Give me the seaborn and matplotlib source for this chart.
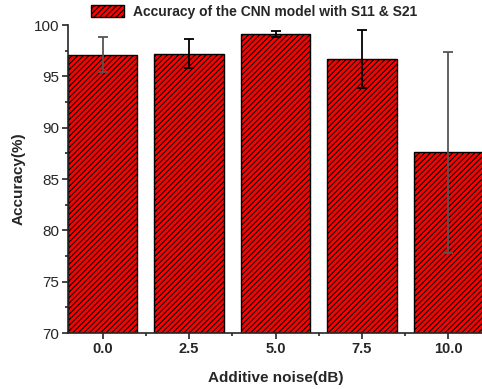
import numpy as np
import seaborn as sns
import matplotlib.pyplot as plt
from matplotlib.patches import Patch
from matplotlib.ticker import MultipleLocator, FixedLocator

# Data
noise_labels = ['0.0', '2.5', '5.0', '7.5', '10.0']
accuracy = [97.1, 97.2, 99.1, 96.7, 87.6]
accuracy_err = [1.7, 1.4, 0.3, 2.8, 9.8]
err_colors = ['#555555', 'black', 'black', 'black', '#555555']

sns.set_style('ticks')
plt.rcParams['font.family'] = ['Liberation Sans', 'DejaVu Sans']
plt.rcParams['hatch.linewidth'] = 0.8
plt.rcParams['hatch.color'] = 'black'

fig = plt.figure(figsize=(4.82, 3.89), dpi=100)
ax = fig.add_axes([68 / 482, 1 - 333 / 389, 415 / 482, 308 / 389])

sns.barplot(x=noise_labels, y=accuracy, color='#ff0000', width=0.8,
            edgecolor='black', linewidth=1.0, hatch='//////',
            saturation=1, errorbar=None, ax=ax)

# Error bars drawn one by one to keep their colours
for i, (v, e, c) in enumerate(zip(accuracy, accuracy_err, err_colors)):
    ax.errorbar(i, v, yerr=e, fmt='none', ecolor=c, elinewidth=1.3,
                capsize=3.3, capthick=1.3)

ax.set_ylim(70, 100)
ax.set_xlim(-0.4, 4.4)
ax.yaxis.set_major_locator(MultipleLocator(5))
ax.yaxis.set_minor_locator(MultipleLocator(2.5))
ax.xaxis.set_minor_locator(FixedLocator(np.arange(0.5, 4.5, 1)))

ax.tick_params(axis='both', which='major', direction='out', length=4.5,
               width=1.2, labelsize=11, pad=2)
ax.tick_params(axis='both', which='minor', direction='out', length=2.5, width=1.2)
for t in ax.get_xticklabels():
    t.set_fontweight('bold')
    t.set_fontsize(10.5)

sns.despine(ax=ax)
for s in ['left', 'bottom']:
    ax.spines[s].set_linewidth(1.2)

ax.set_xlabel('Additive noise(dB)', fontsize=11, fontweight='bold', labelpad=11)
ax.set_ylabel('Accuracy(%)', fontsize=11, fontweight='bold', labelpad=6)

handle = Patch(facecolor='#ff0000', edgecolor='black', hatch='//////',
               label='Accuracy of the CNN model with S11 & S21')
fig.legend(handles=[handle], loc='center left',
           bbox_to_anchor=(91 / 482, 1 - 12 / 389), frameon=False,
           borderpad=0, borderaxespad=0, handlelength=2.4, handleheight=0.95,
           handletextpad=0.65, prop={'weight': 'bold', 'size': 10})

fig.savefig('out.png', dpi=100)
